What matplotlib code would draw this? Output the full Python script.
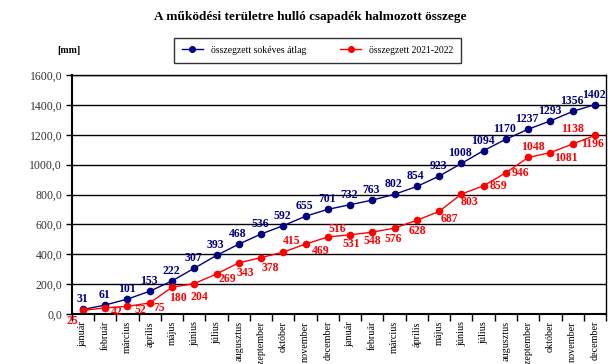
import matplotlib.pyplot as plt
import numpy as np

plt.rcParams['font.family'] = ['Liberation Serif', 'DejaVu Serif']

months = ['január', 'február', 'március', 'április', 'május', 'június',
          'július', 'augusztus', 'szeptember', 'október', 'november', 'december']
labels = months + months

avg = [31, 61, 101, 153, 222, 307, 393, 468, 536, 592, 655, 701,
       732, 763, 802, 854, 923, 1008, 1094, 1170, 1237, 1293, 1356, 1402]
cur = [25, 42, 52, 75, 180, 204, 269, 343, 378, 415, 469, 516,
       531, 548, 576, 628, 687, 803, 859, 946, 1048, 1081, 1138, 1196]

# label offsets for the red series (pixels, dx, dy)
red_off = [(-11, -11), (12, -4), (13, -4), (9, -5), (6, -11), (5, -13),
           (11, -5), (7, -10), (9, -10), (8, 11), (15, -7), (10, 8),
           (1, -9), (0, -9), (-1, -11), (1, -11), (10, -8), (8, -8),
           (15, 0), (15, 0), (5, 10), (16, -5), (0, 15), (-2, -9)]

blue = '#000080'
red = '#ff0000'

fig = plt.figure(figsize=(6.14, 3.64), dpi=100)
ax = fig.add_axes([0.117, 0.137, 0.870, 0.657])

x = np.arange(len(labels))
ax.plot(x, avg, color=blue, lw=1, marker='o', ms=4.5, label='összegzett sokéves átlag')
ax.plot(x, cur, color=red, lw=1, marker='o', ms=4.5, label='összegzett 2021-2022')

for i, v in enumerate(avg):
    ax.annotate(str(v), (i, v), xytext=(-1, 10), textcoords='offset pixels',
                ha='center', va='center', color=blue, fontsize=8.5, fontweight='bold')
for i, v in enumerate(cur):
    dx, dy = red_off[i]
    ax.annotate(str(v), (i, v), xytext=(dx, dy), textcoords='offset pixels',
                ha='center', va='center', color=red, fontsize=8.5, fontweight='bold',
                annotation_clip=False)

ax.set_xlim(-0.5, len(labels) - 0.5)
ax.set_ylim(0, 1600)
ax.set_yticks(np.arange(0, 1601, 200))
ax.set_yticklabels(['%d,0' % t for t in range(0, 1601, 200)], fontsize=8.5, color='#333333')
ax.grid(axis='y', color='black', lw=1)
ax.set_axisbelow(True)

ax.set_xticks(x)
ax.set_xticklabels(labels, rotation=90, fontsize=7.3, va='top')
ax.set_xticks(np.arange(-0.5, len(labels), 1), minor=True)
ax.tick_params(axis='x', which='major', length=0, pad=5)
ax.tick_params(axis='x', which='minor', length=5, direction='out', width=1)
ax.tick_params(axis='y', length=4, width=1, pad=3)

for s in ax.spines.values():
    s.set_color('black')
    s.set_linewidth(1)
ax.spines['left'].set_linewidth(1.5)
ax.spines['bottom'].set_linewidth(1.5)

fig.text(0.505, 0.952, 'A működési területre hulló csapadék halmozott összege',
         ha='center', va='center', fontsize=9.5, fontweight='bold')
fig.text(0.112, 0.862, '[mm]', ha='center', va='center', fontsize=7, fontweight='bold')

leg = fig.legend(loc='center', bbox_to_anchor=(0.517, 0.862), ncol=2, fontsize=7,
                 frameon=True, fancybox=False, edgecolor='black', columnspacing=3.5,
                 handlelength=2.2, borderpad=0.8, markerscale=0.9)
leg.get_frame().set_linewidth(1)

fig.savefig('out.png', dpi=100)
